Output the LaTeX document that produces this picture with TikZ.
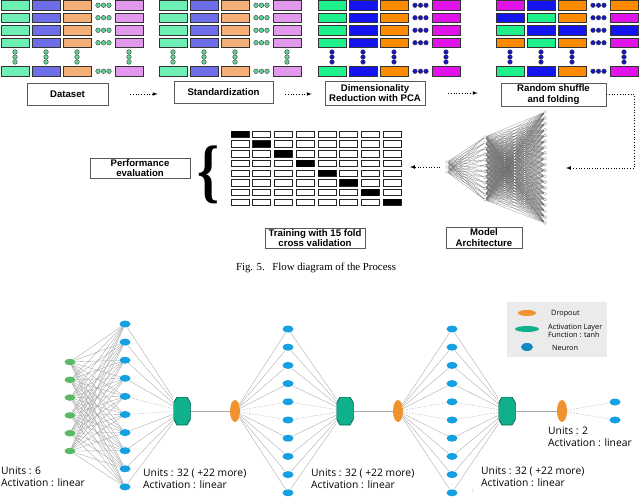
\documentclass[tikz,border=0pt]{standalone}
\usepackage{fontspec}
\setmainfont{Liberation Serif}
\newfontfamily\boxfont{Liberation Sans}
\newfontfamily\netfont{Open Sans}
\usetikzlibrary{shapes.geometric,calc}

\definecolor{mintL}{RGB}{110,240,180}
\definecolor{blueL}{RGB}{110,110,232}
\definecolor{orangeL}{RGB}{245,176,120}
\definecolor{pinkL}{RGB}{226,152,236}
\definecolor{mintD}{RGB}{30,240,140}
\definecolor{blueD}{RGB}{20,20,240}
\definecolor{orangeD}{RGB}{255,140,0}
\definecolor{pinkD}{RGB}{224,20,232}
\definecolor{dotL}{RGB}{100,210,150}
\definecolor{dotD}{RGB}{20,20,200}
\definecolor{neuron}{RGB}{20,160,225}
\definecolor{inputg}{RGB}{90,185,100}
\definecolor{actv}{RGB}{16,176,140}
\definecolor{drop}{RGB}{240,146,46}
\definecolor{legendbg}{RGB}{235,235,235}

\tikzset{
  cellbox/.style={draw=black!80, line width=0.7pt},
  dotbox/.style={draw=black!75, line width=0.4pt},
  stagebox/.style={draw=black!65, line width=0.7pt, fill=white, align=center,
    inner sep=1pt, font=\boxfont\bfseries\fontsize{9.6}{10.5}\selectfont},
  flowarrow/.style={->, dotted, line width=0.7pt},
  foldcell/.style={draw=black!85, line width=0.5pt, fill=white},
  unit/.style={circle, draw=black!45, fill=white, inner sep=0, minimum size=3pt, line width=0.3pt},
  mesh/.style={draw=black!60, line width=0.15pt},
  inputnode/.style={ellipse, fill=inputg, minimum width=11pt, minimum height=6.5pt, inner sep=0},
  neuronnode/.style={ellipse, fill=neuron, minimum width=11pt, minimum height=7pt, inner sep=0},
  actnode/.style={rectangle, minimum width=17pt, minimum height=28pt, inner sep=0,
    path picture={\filldraw[fill=actv, draw=actv!60!black, line width=0.8pt]
      ([xshift=3.5pt]path picture bounding box.north west) -- ([xshift=-3.5pt]path picture bounding box.north east)
      -- ([yshift=-6pt]path picture bounding box.north east) -- ([yshift=6pt]path picture bounding box.south east)
      -- ([xshift=-3.5pt]path picture bounding box.south east) -- ([xshift=3.5pt]path picture bounding box.south west)
      -- ([yshift=6pt]path picture bounding box.south west) -- ([yshift=-6pt]path picture bounding box.north west) -- cycle;}},
  dropnode/.style={ellipse, fill=drop, minimum width=10pt, minimum height=22pt, inner sep=0},
  link/.style={draw=black!35, line width=0.35pt},
  dlink/.style={link, dash pattern=on 1.5pt off 1.5pt},
  netlabel/.style={anchor=north west, align=left, inner sep=0,
    font=\netfont\fontsize{10.3}{11.5}\selectfont},
  legendtext/.style={anchor=west, align=left, inner sep=0,
    font=\netfont\fontsize{7.3}{8.3}\selectfont}
}

% one row of feature cells: offset, y, four colours, dot colour
\newcommand{\cellrow}[7]{%
  \foreach \px/\pc in {1/#3,32/#4,63/#5,115/#6}
    \draw[cellbox,fill=\pc] (#1+\px,#2) rectangle ++(28,9.5);
  \foreach \qx in {98,103.5,109}
    \draw[dotbox,fill=#7] (#1+\qx,#2+4.75) circle[radius=2.3pt];
}

\begin{document}
\begin{tikzpicture}[x=1pt,y=-1pt,>=latex]
\useasboundingbox (0,0) rectangle (640,497);

% data panels
\foreach \ox/\ca/\cb/\cc/\cd/\dc in {0/mintL/blueL/orangeL/pinkL/dotL,
    158/mintL/blueL/orangeL/pinkL/dotL, 317/mintD/blueD/orangeD/pinkD/dotD}{
  \foreach \ry in {0.5,13,25.5,38,66.5}
    \cellrow{\ox}{\ry}{\ca}{\cb}{\cc}{\cd}{\dc};
  \foreach \vx in {15,46,77,129}
    \foreach \vy in {52,57,62}
      \draw[dotbox,fill=\dc] (\ox+\vx,\vy) circle[radius=2.3pt];
}
% shuffled panel
\cellrow{495}{0.5}{pinkD}{blueD}{orangeD}{orangeD}{dotD}
\cellrow{495}{13}{blueD}{mintD}{orangeD}{pinkD}{dotD}
\cellrow{495}{25.5}{mintD}{blueD}{blueD}{blueD}{dotD}
\cellrow{495}{38}{orangeD}{mintD}{orangeD}{pinkD}{dotD}
\cellrow{495}{66.5}{mintD}{blueD}{orangeD}{pinkD}{dotD}
\foreach \vx in {15,46,77,129}
  \foreach \vy in {52,57,62}
    \draw[dotbox,fill=dotD] (495+\vx,\vy) circle[radius=2.3pt];

% stage boxes
\node[stagebox, minimum width=81pt, minimum height=22pt] (ds) at (67.5,94) {Dataset};
\node[stagebox, minimum width=99pt, minimum height=22pt] (std) at (223.5,92) {Standardization};
\node[stagebox, minimum width=100pt, minimum height=24pt] (dim) at (375,93) {Dimensionality\\Reduction with PCA};
\node[stagebox, minimum width=105pt, minimum height=23pt] (rnd) at (553.5,94.5) {Random shuffle\\and folding};
\node[stagebox, minimum width=76pt, minimum height=21pt] (arch) at (484,237.5) {Model\\Architecture};
\node[stagebox, minimum width=100pt, minimum height=20pt] (perf) at (140,168) {Performance\\evaluation};
\node[stagebox, minimum width=100pt, minimum height=20pt] (train) at (315,238) {Training with 15 fold\\cross validation};

\draw[flowarrow] ([xshift=22pt]ds.east) -- ([xshift=-16pt]ds.east -| std.west);
\draw[flowarrow] ([xshift=12pt]std.east |- ds.east) -- ([xshift=-13pt]dim.west |- ds.east);
\draw[flowarrow] ([xshift=23pt]dim.east) -- ([xshift=-23pt]rnd.west |- dim.east);
\coordinate (netR) at (566,168);
\coordinate (netL) at (440,167);
\coordinate (gridR) at (410,167);
\draw[flowarrow] (rnd.east) -- ++(28,0) |- (netR);
\draw[flowarrow] (netL) -- (gridR);

% model architecture
\foreach \i in {1,2,3}
  \node[unit] (a\i) at (447,{157+5*\i}) {};
\foreach \j in {1,...,12}
  \node[unit] (b\j) at (485,{137+5.73*(\j-1)}) {};
\foreach \k in {1,...,20}
  \node[unit] (c\k) at (545,{112+5.84*(\k-1)}) {};
\foreach \i in {1,2,3}
  \foreach \j in {1,...,12}
    \draw[mesh] (a\i) -- (b\j);
\foreach \j in {1,...,12}
  \foreach \k in {1,...,20}
    \draw[mesh] (b\j) -- (c\k);

% folds
\foreach \i in {0,...,7}
  \foreach \j in {0,...,7}
    \draw[foldcell] ({231+21.7*\i},{131+9.7*\j}) rectangle ++(18,6.5);
\foreach \i in {0,...,7}
  \fill[black] ({231+21.7*\i},{131+9.7*\i}) rectangle ++(18,6.5);
\node[inner sep=0] (brace) at (209,174.5) {\resizebox*{22pt}{58pt}{\bfseries\{}};

\node[font=\fontsize{10.8}{12}\selectfont] (caption) at (316,268) {Fig. 5.\hspace{0.7em}Flow diagram of the Process};

% network layers
\foreach \k in {1,...,6}
  \node[inputnode] (in\k) at (70,{362+17.8*(\k-1)}) {};
\foreach \k in {1,...,10}
  \node[neuronnode] (h1n\k) at (125,{324+18.1*(\k-1)}) {};
\foreach \k in {1,...,10}
  \node[neuronnode] (h2n\k) at (288,{329+18.2*(\k-1)}) {};
\foreach \k in {1,...,10}
  \node[neuronnode] (h3n\k) at (452,{329+18.2*(\k-1)}) {};
\node[actnode] (act1) at (182,411) {};
\node[dropnode] (drop1) at (235,411) {};
\node[actnode] (act2) at (345,411) {};
\node[dropnode] (drop2) at (398,411) {};
\node[actnode] (act3) at (507,411) {};
\node[dropnode] (drop3) at (562,411) {};
\node[neuronnode] (out1) at (615,402) {};
\node[neuronnode] (out2) at (615,420) {};

\def\linkstyles{1/link,2/link,3/link,4/link,5/dlink,6/dlink,7/link,8/link,9/link,10/link}
\foreach \i in {1,...,6}
  \foreach \k in {1,...,10}
    \draw[link] (in\i) -- (h1n\k);
\foreach \k/\s in \linkstyles {
  \draw[\s] (h1n\k) -- (act1);
  \draw[\s] (drop1) -- (h2n\k);
  \draw[\s] (h2n\k) -- (act2);
  \draw[\s] (drop2) -- (h3n\k);
  \draw[\s] (h3n\k) -- (act3);
}
\draw[link, line width=0.6pt] (act1) -- (drop1);
\draw[link, line width=0.6pt] (act2) -- (drop2);
\draw[link, line width=0.6pt] (act3) -- (drop3);
\draw[dlink] (drop3) -- (out1);
\draw[dlink] (drop3) -- (out2);

\node[netlabel] (lab1) at (1,467) {Units : 6\\Activation : linear};
\node[netlabel] (lab2) at (143,469) {Units : 32 ( +22 more)\\Activation : linear};
\node[netlabel] (lab3) at (311,469) {Units : 32 ( +22 more)\\Activation : linear};
\node[netlabel] (lab4) at (481,467) {Units : 32 ( +22 more)\\Activation : linear};
\node[netlabel] (lab5) at (548,427) {Units : 2\\Activation : linear};
\node[inner sep=0, font=\fontsize{6}{6}\selectfont, text=black!60] (mark) at (473,491) {:};

% legend
\fill[legendbg] (507,302) rectangle (607,357);
\node[ellipse, fill=drop, minimum width=18pt, minimum height=6pt, inner sep=0] (lgdrop) at (527,313) {};
\node[ellipse, fill=actv, minimum width=24pt, minimum height=6pt, inner sep=0] (lgact) at (527,329) {};
\node[ellipse, fill=neuron!85!black, minimum width=12pt, minimum height=8pt, inner sep=0] (lgneu) at (527,347) {};
\node[legendtext] (lgt1) at (551,314) {Dropout};
\node[legendtext] (lgt2) at (548,331) {Activation Layer\\Function : tanh};
\node[legendtext] (lgt3) at (552,348) {Neuron};
\end{tikzpicture}
\end{document}
